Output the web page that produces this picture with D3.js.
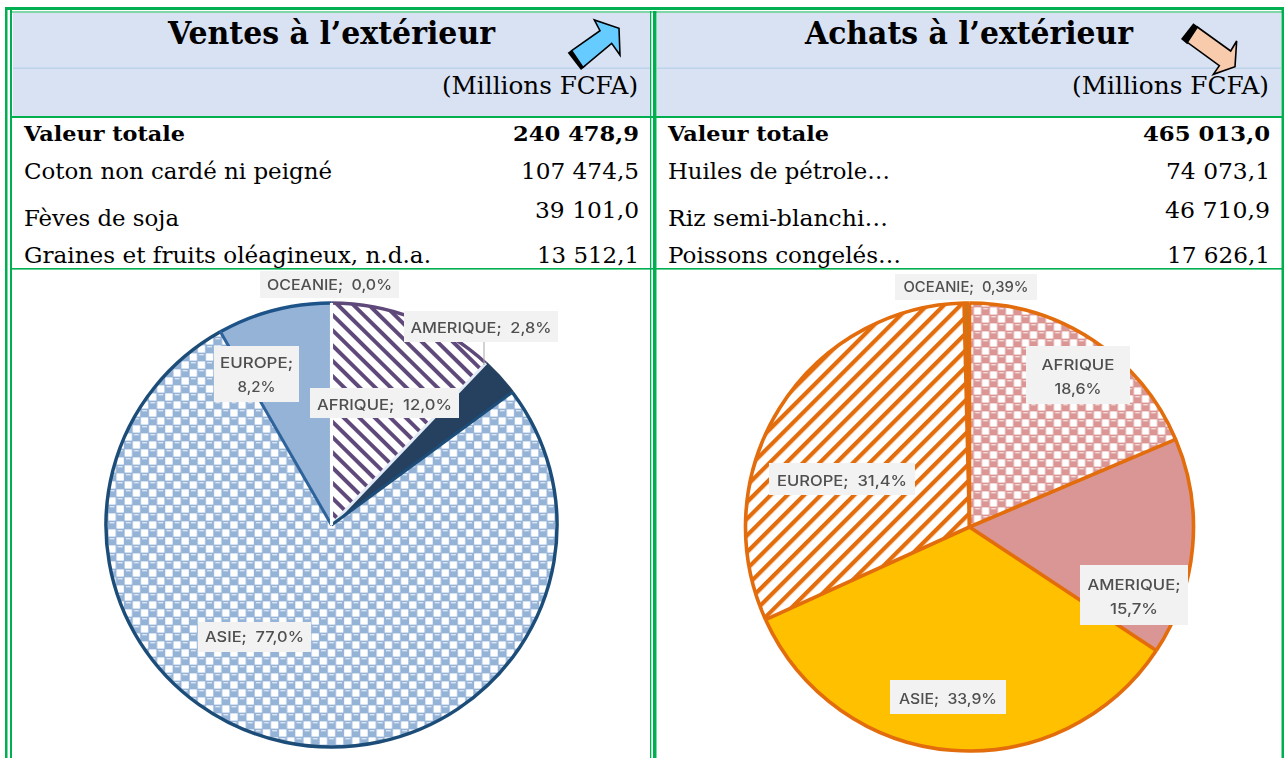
<!DOCTYPE html>
<html lang="fr"><head><meta charset="utf-8">
<script src="https://cdn.jsdelivr.net/npm/d3@7/dist/d3.min.js"></script>
<style>html,body{margin:0;padding:0;background:#fff;overflow:hidden}svg{display:block}</style>
</head><body><div id="chart"></div>
<script>
// ---- data
const regions = ["AFRIQUE","AMERIQUE","ASIE","EUROPE","OCEANIE"];
const ventesValues = [12.0,2.8,77.0,8.2,0.0];
const achatsValues = [18.6,15.7,33.9,31.4,0.39];
const ventesLabels = ["12,0%","2,8%","77,0%","8,2%","0,0%"];
const achatsLabels = ["18,6%","15,7%","33,9%","31,4%","0,39%"];
const ventesRows = [["Valeur totale","240 478,9"],["Coton non cardé ni peigné","107 474,5"],["Fèves de soja","39 101,0"],["Graines et fruits oléagineux, n.d.a.","13 512,1"]];
const achatsRows = [["Valeur totale","465 013,0"],["Huiles de pétrole…","74 073,1"],["Riz semi-blanchi…","46 710,9"],["Poissons congelés…","17 626,1"]];
const titles = ["Ventes à l’extérieur","Achats à l’extérieur"];
const unit = "(Millions FCFA)";

// ---- layout
const W=1285,H=758,GREEN="#00b050",SERIF="'DejaVu Serif',serif",SANS="Inter,'Open Sans',sans-serif";
const svg=d3.select("#chart").append("svg").attr("width",W).attr("height",H).attr("viewBox",`0 0 ${W} ${H}`);
const defs=svg.append("defs");
function dots(id,color,hi){
  const p=defs.append("pattern").attr("id",id).attr("patternUnits","userSpaceOnUse").attr("width",16).attr("height",16);
  p.append("rect").attr("width",16).attr("height",16).attr("fill","#fff");
  [[8,0],[0,8],[16,8],[8,16]].forEach(([x,y])=>{
    p.append("circle").attr("cx",x).attr("cy",y).attr("r",6.2).attr("fill",color);
    p.append("rect").attr("x",x-2.4).attr("y",y-3).attr("width",4.8).attr("height",1.4).attr("fill",hi);
  });
  [[0,0],[16,0],[0,16],[16,16],[8,8]].forEach(([x,y])=>{
    p.append("rect").attr("x",x-3.6).attr("y",y-3.6).attr("width",7.2).attr("height",7.2).attr("fill","#fff");
  });
}
function hatch(id,color,angle,period,sw){
  const p=defs.append("pattern").attr("id",id).attr("patternUnits","userSpaceOnUse").attr("width",period).attr("height",period).attr("patternTransform",`rotate(${angle})`);
  p.append("rect").attr("width",period).attr("height",period).attr("fill","#fff");
  p.append("rect").attr("width",period).attr("height",sw).attr("fill",color);
}
dots("dotBlue","#95b3d7","#dbe6f2");
dots("dotRose","#d99694","#f3dddc");
hatch("hatchPurple","#5f497a",45,10.8,3.9);
hatch("hatchOrange","#e36c09",-45,11.8,4.2);
const soft=defs.append("filter").attr("id","soft").attr("x","-5%").attr("y","-5%").attr("width","110%").attr("height","110%");
soft.append("feGaussianBlur").attr("stdDeviation",0.5);

// ---- frame
const hdr=svg.append("g");
[[13,650],[657,1281]].forEach(([a,b])=>{
  hdr.append("rect").attr("x",a).attr("y",13).attr("width",b-a).attr("height",103).attr("fill","#d9e2f3");
  hdr.append("rect").attr("x",a).attr("y",67.5).attr("width",b-a).attr("height",1.5).attr("fill","#bdd3ec");
});
const frameRects=[
 [5,7,2.5,751],[10,10,2,748],[5,7,1279,3],[11.5,11.5,1271,1],
 [650,11,1.3,747],[653,11,3.5,747],[1281.5,7,2.5,751],
 [12,116,1270,2],[12,268,1270,1.6]];
hdr.selectAll("rect.f").data(frameRects).join("rect").attr("class","f")
 .attr("x",d=>d[0]).attr("y",d=>d[1]).attr("width",d=>d[2]).attr("height",d=>d[3]).attr("fill",GREEN);

// ---- table text
function t(g,s,x,y,size,len,bold){
  return g.append("text").attr("x",x).attr("y",y).attr("font-family",SERIF).attr("font-size",size)
   .attr("font-weight",bold?"700":"400").attr("fill","#000")
   .attr("textLength",len).attr("lengthAdjust","spacingAndGlyphs").text(s);
}
const txt=svg.append("g");
const rowY=[[141,141],[179,179],[226,218],[263,263]];
function table(rows,lx,rx,lw,rw,tx,tw,title,ux,uw){
  t(txt,title,tx,44,31,tw,true);
  t(txt,unit,ux,94,25,uw);
  rows.forEach((r,i)=>{
    t(txt,r[0],lx,rowY[i][0],i?22:21,lw[i],i==0);
    t(txt,r[1],rx-rw[i],rowY[i][1],i?22:21,rw[i],i==0);
  });
}
table(ventesRows,24,639,[161,308,155,407],[126,118,104,102],168,327,titles[0],442,196);
table(achatsRows,668,1270,[161,222,220,233],[127,104,105,103],805,328,titles[1],1072,197);

// ---- arrows (decor)
const P=(ox,oy,a)=>a.map(([x,y])=>`${ox+x/3},${oy+y/3}`).join(" ");
const arrows=svg.append("g");
arrows.append("polygon").attr("points",P(555,10,[[38,128],[50,120],[92,168],[78,180]])).attr("fill","#000");
arrows.append("polygon").attr("points",P(555,10,[[50,122],[135,62],[118,30],[192,55],[195,135],[170,100],[84,172]])).attr("fill","#66ccff").attr("stroke","#000").attr("stroke-width",1.6);
arrows.append("polygon").attr("points",P(1170,15,[[33,72],[70,25],[88,38],[52,88]])).attr("fill","#000");
arrows.append("polygon").attr("points",P(1170,15,[[82,36],[182,108],[200,78],[195,155],[130,178],[148,152],[52,82]])).attr("fill","#f8cbad").attr("stroke","#000").attr("stroke-width",1.6);

// ---- pies
const pieGen=d3.pie().sort(null).value(d=>d);
function drawPie(cfg){
  const g=svg.append("g").attr("transform",`translate(${cfg.cx},${cfg.cy}) scale(${cfg.sx||1},1)`).attr("filter","url(#soft)");
  const arcs=pieGen(cfg.values);
  const arc=d3.arc().innerRadius(0).outerRadius(cfg.r);
  g.selectAll("path.s").data(arcs).join("path").attr("class","s").attr("d",arc).attr("fill",(d,i)=>cfg.fills[i]);
  const rim=d3.arc().innerRadius(cfg.r).outerRadius(cfg.r);
  g.selectAll("path.r").data(arcs).join("path").attr("class","r")
    .attr("d",d=>rim(d)).attr("fill","none").attr("stroke",(d,i)=>cfg.rims[i]).attr("stroke-width",cfg.sw);
  g.selectAll("line.b").data(arcs).join("line").attr("class","b")
    .attr("x1",0).attr("y1",0)
    .attr("x2",d=>d3.pointRadial(d.startAngle,cfg.r)[0]).attr("y2",d=>d3.pointRadial(d.startAngle,cfg.r)[1])
    .attr("stroke",(d,i)=>cfg.edges[i]).attr("stroke-width",cfg.esw);
  return g;
}
function drawLabels(cfg){
  const g=svg.append("g").attr("filter","url(#soft)");
  cfg.boxes.forEach(b=>{
    const k=b.i, cat=regions[k]+(b.semi===false?"":";"), val=cfg.labels[k];
    g.append("rect").attr("x",b.x).attr("y",b.y).attr("width",b.w).attr("height",b.h).attr("fill","#f2f2f2");
    const text=(s,y,len)=>g.append("text").attr("x",b.x+b.w/2).attr("y",y).attr("text-anchor","middle").style("white-space","pre")
      .attr("font-family",SANS).attr("font-size",14.5).attr("font-weight",500).attr("fill","#4f4f4f").attr("textLength",len).attr("lengthAdjust","spacingAndGlyphs").text(s);
    if(b.two){ text(cat,b.y+b.ty,b.l1); text(val,b.y+b.ty+24,b.l2); }
    else text(cat+"  "+val,b.y+b.ty,b.l1);
  });
}
drawPie({cx:331.5,cy:525,r:222,sx:1.016,sw:3.4,esw:3,values:ventesValues,
  fills:["url(#hatchPurple)","#254061","url(#dotBlue)","#95b3d7","#95b3d7"],
  rims:["#5f497a","#254061","#1f4e79","#1f5288","#1f5288"],
  edges:["#fff","#e3ecf6","#1f4e79","#2f639c","#fff"]});
svg.append("line").attr("x1",484).attr("y1",342).attr("x2",484).attr("y2",365).attr("stroke","#a6a6a6");
drawLabels({labels:ventesLabels,boxes:[
  {i:4,x:260,y:271,w:139,h:27,ty:19,l1:125},
  {i:1,x:404,y:311,w:154,h:31,ty:22,l1:141},
  {i:0,x:310,y:388,w:149,h:30,ty:22,l1:135},
  {i:3,x:214,y:346,w:85,h:56,ty:22,two:true,l1:73,l2:38},
  {i:2,x:198,y:622,w:113,h:30,ty:20,l1:99}]});
drawPie({cx:969.5,cy:527,r:224,sw:3.6,esw:3.6,values:achatsValues,
  fills:["url(#dotRose)","#d99694","#ffc000","url(#hatchOrange)","#c07a20"],
  rims:["#e36c09","#e36c09","#e36c09","#e36c09","#e36c09"],
  edges:["#e36c09","#e36c09","#e36c09","#e36c09","#e36c09"]});
drawLabels({labels:achatsLabels,boxes:[
  {i:4,x:895,y:274,w:142,h:26,ty:18,l1:125},
  {i:0,x:1026,y:346,w:104,h:58,ty:24,two:true,semi:false,l1:73,l2:47},
  {i:1,x:1080,y:565,w:108,h:60,ty:25,two:true,l1:93,l2:48},
  {i:3,x:769,y:463,w:146,h:32,ty:23,l1:130},
  {i:2,x:890,y:680,w:116,h:34,ty:24,l1:98}]});
</script></body></html>
